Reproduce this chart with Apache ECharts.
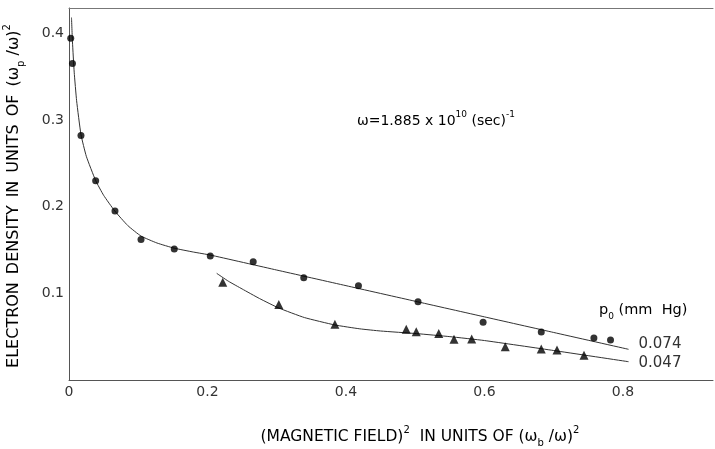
<!DOCTYPE html>
<html>
<head>
<meta charset="utf-8">
<script src="https://cdn.jsdelivr.net/npm/echarts@6/dist/echarts.min.js"></script>
<style>html,body{margin:0;padding:0;background:#fff;}#c{width:715px;height:449px;}</style>
</head>
<body>
<div id="c"></div>
<script>
// Measured data, p0 = 0.074 mm Hg (circles)
const circleX = [0.0025, 0.005, 0.0173, 0.0385, 0.0664, 0.104, 0.152, 0.204, 0.266, 0.339, 0.418, 0.504, 0.598, 0.682, 0.758, 0.782];
const circleY = [0.394, 0.365, 0.282, 0.2297, 0.1948, 0.162, 0.151, 0.143, 0.1364, 0.118, 0.1087, 0.0903, 0.0665, 0.0553, 0.0484, 0.0461];
// Measured data, p0 = 0.047 mm Hg (triangles)
const triX = [0.222, 0.303, 0.384, 0.487, 0.5015, 0.534, 0.556, 0.5815, 0.630, 0.682, 0.7047, 0.7437];
const triY = [0.1126, 0.0872, 0.0642, 0.0584, 0.0557, 0.0537, 0.0469, 0.0473, 0.0384, 0.0357, 0.0346, 0.0285];
// Fitted curves
const fitUpperX = [0.0036, 0.005, 0.0075, 0.011, 0.0173, 0.025, 0.0385, 0.05, 0.066, 0.085, 0.104, 0.127, 0.152, 0.18, 0.204, 0.3, 0.4, 0.5, 0.6, 0.7, 0.808];
const fitUpperY = [0.418, 0.39, 0.355, 0.322, 0.283, 0.258, 0.23, 0.213, 0.195, 0.178, 0.166, 0.158, 0.152, 0.1475, 0.1441, 0.1268, 0.1088, 0.0908, 0.0728, 0.0548, 0.0354];
const fitLowerX = [0.2133, 0.23, 0.25, 0.275, 0.303, 0.34, 0.3837, 0.42, 0.45, 0.502, 0.55, 0.6, 0.7, 0.808];
const fitLowerY = [0.123, 0.114, 0.105, 0.094, 0.083, 0.072, 0.0635, 0.059, 0.0565, 0.0535, 0.050, 0.0455, 0.034, 0.0211];
const curveLabels = ['0.074', '0.047'];
const xTicks = [0, 0.2, 0.4, 0.6, 0.8];
const yTicks = [0.1, 0.2, 0.3, 0.4];

const zip = (a, b) => a.map((v, i) => [v, b[i]]);
const FONT = 'DejaVu Sans';
const TXT = '#333';
function richSet(size) {
  return {
    m: { fontFamily: FONT, fontSize: size, color: TXT, lineHeight: size + 8 },
    sup: { fontFamily: FONT, fontSize: Math.round(size * 0.62), color: TXT, verticalAlign: 'top', lineHeight: size + 8 },
    sub: { fontFamily: FONT, fontSize: Math.round(size * 0.62), color: TXT, verticalAlign: 'bottom', lineHeight: size + 8 }
  };
}
const SP = '\u2002';

const chart = echarts.init(document.getElementById('c'));
chart.setOption({
  animation: false,
  backgroundColor: '#fff',
  grid: { left: 69, top: 8, right: 2, bottom: 69, containLabel: false },
  xAxis: [{
    type: 'value', min: 0, max: 0.93, interval: 0.2,
    axisLine: { show: true, lineStyle: { color: '#555', width: 1 } },
    axisTick: { show: false },
    splitLine: { show: false },
    axisLabel: { showMaxLabel: false, margin: 5, fontFamily: FONT, fontSize: 14, color: TXT,
      formatter: v => xTicks.some(t => Math.abs(t - v) < 1e-6) ? (v === 0 ? '0' : v.toFixed(1)) : '' }
  }, {
    type: 'value', position: 'top', min: 0, max: 0.93,
    axisLine: { show: true, lineStyle: { color: '#777', width: 1 } },
    axisTick: { show: false }, axisLabel: { show: false }, splitLine: { show: false }
  }],
  yAxis: {
    type: 'value', min: 0, max: 0.429, interval: 0.1,
    axisLine: { show: true, lineStyle: { color: '#555', width: 1 } },
    axisTick: { show: false },
    splitLine: { show: false },
    axisLabel: { showMaxLabel: false, margin: 5, fontFamily: FONT, fontSize: 14, color: TXT,
      formatter: v => yTicks.some(t => Math.abs(t - v) < 1e-6) ? v.toFixed(1) : '' }
  },
  series: [
    { type: 'line', data: zip(fitUpperX, fitUpperY), smooth: 0.15, showSymbol: false,
      lineStyle: { color: '#333', width: 1 }, z: 1,
      endLabel: { show: true, formatter: curveLabels[0], offset: [2, -5], fontFamily: FONT, fontSize: 15, color: TXT } },
    { type: 'line', data: zip(fitLowerX, fitLowerY), smooth: 0.15, showSymbol: false,
      lineStyle: { color: '#333', width: 1 }, z: 1,
      endLabel: { show: true, formatter: curveLabels[1], offset: [2, 1], fontFamily: FONT, fontSize: 15, color: TXT } },
    { type: 'scatter', data: zip(circleX, circleY), symbol: 'circle', symbolSize: 7,
      itemStyle: { color: '#000' }, z: 3 },
    { type: 'scatter', data: zip(triX, triY), symbol: 'triangle', symbolSize: 9,
      itemStyle: { color: '#000' }, z: 3 }
  ],
  graphic: [
    { type: 'text', x: 14, y: 196, rotation: Math.PI / 2,
      style: { text: '{m|ELECTRON' + SP + 'DENSITY' + SP + 'IN' + SP + 'UNITS' + SP + 'OF' + SP + '(ω}{sub|p}{m| /ω)}{sup|2}', rich: richSet(16), align: 'center', verticalAlign: 'middle' } },
    { type: 'text', x: 420, y: 437,
      style: { text: '{m|(MAGNETIC FIELD)}{sup|2}{m|  IN UNITS OF (ω}{sub|b}{m| /ω)}{sup|2}', rich: richSet(15.5), align: 'center', verticalAlign: 'middle' } },
    { type: 'text', x: 357, y: 121,
      style: { text: '{m|ω=1.885 x 10}{sup|10}{m| (sec)}{sup|-1}', rich: richSet(14), align: 'left', verticalAlign: 'middle' } },
    { type: 'text', x: 599, y: 310,
      style: { text: '{m|p}{sub|0}{m| (mm  Hg)}', rich: richSet(14.5), align: 'left', verticalAlign: 'middle' } }
  ]
});
</script>
</body>
</html>
